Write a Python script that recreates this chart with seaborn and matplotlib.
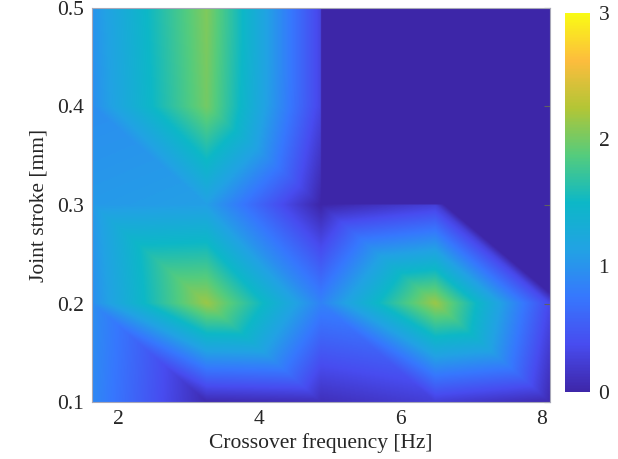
import numpy as np
import seaborn as sns
import matplotlib
matplotlib.use("Agg")
import matplotlib.pyplot as plt
import matplotlib.tri as mtri
from matplotlib.colors import LinearSegmentedColormap

# measurement grid
freq = [1.625, 3.25, 4.875, 6.5, 8.125]      # Crossover frequency [Hz]
stroke = [0.1, 0.2, 0.3, 0.4, 0.5]           # Joint stroke [mm]

# values per stroke row (columns follow freq), nan = no data
z_stroke_01 = [0.90, 0.05, 0.10, 0.25, 0.05]
z_stroke_02 = [0.95, 2.15, 0.85, 2.15, 0.35]
z_stroke_03 = [1.05, 1.10, 0.00, 0.25, -3.0]
z_stroke_04 = [0.95, 2.00, 0.30, np.nan, np.nan]
z_stroke_05 = [1.00, 2.05, 0.30, np.nan, np.nan]

cbar_ticks = [0, 1, 2, 3]
x_ticks = [2, 4, 6, 8]
y_ticks = [0.1, 0.2, 0.3, 0.4, 0.5]

parula = LinearSegmentedColormap.from_list("parula", [
    (0.2422, 0.1504, 0.6603), (0.2813, 0.2985, 0.9397), (0.2128, 0.4682, 0.9948),
    (0.1321, 0.6363, 0.8932), (0.0500, 0.7200, 0.7800), (0.3300, 0.8000, 0.4900),
    (0.7000, 0.7750, 0.2100), (0.9900, 0.7400, 0.2400), (0.9769, 0.9839, 0.0805)], N=256)

sns.set_style("white")
plt.rcParams['font.family'] = ['Liberation Serif', 'DejaVu Serif']

Z = np.array([z_stroke_01, z_stroke_02, z_stroke_03, z_stroke_04, z_stroke_05])
nx, ny = len(freq), len(stroke)
X, Y = np.meshgrid(freq, stroke)

# split every quad along its top-left -> bottom-right diagonal (like MATLAB interp shading)
tris, mask = [], []
for j in range(ny - 1):
    for i in range(nx - 1):
        bl, br = j * nx + i, j * nx + i + 1
        tl, tr = (j + 1) * nx + i, (j + 1) * nx + i + 1
        bad = np.isnan(Z.ravel()[[bl, br, tl, tr]]).any()
        tris += [[tl, tr, br], [tl, bl, br]]
        mask += [bad, bad]
tri = mtri.Triangulation(X.ravel(), Y.ravel(), np.array(tris))
tri.set_mask(np.array(mask))
interp = mtri.LinearTriInterpolator(tri, np.nan_to_num(Z).ravel())

xs = np.linspace(freq[0], freq[-1], 700)
ys = np.linspace(stroke[0], stroke[-1], 500)
XX, YY = np.meshgrid(xs, ys)
ZZ = interp(XX, YY)

fig = plt.figure(figsize=(6.18, 4.59), dpi=100)
ax = fig.add_axes([0.149, 0.124, 0.741, 0.859])
cmap = parula.copy()
cmap.set_bad(parula(0.0))
im = ax.imshow(ZZ, extent=[freq[0], freq[-1], stroke[0], stroke[-1]], origin='lower',
               aspect='auto', cmap=cmap, vmin=0, vmax=3, interpolation='bilinear')

ax.set_xticks(x_ticks)
ax.set_yticks(y_ticks)
ax.set_xlabel('Crossover frequency [Hz]', fontsize=15.5, color='#262626', labelpad=3)
ax.set_ylabel('Joint stroke [mm]', fontsize=15.5, color='#262626', labelpad=6)
ax.tick_params(axis='both', labelsize=15.5, colors='#262626', length=0, pad=6)
ax.tick_params(axis='y', right=True, direction='in', length=4, color='#606060')
for s in ax.spines.values():
    s.set_color('#a8a8b8')
    s.set_linewidth(0.8)

cax = fig.add_axes([0.914, 0.146, 0.041, 0.826])
cb = fig.colorbar(im, cax=cax, ticks=cbar_ticks)
cb.outline.set_visible(False)
cb.ax.tick_params(labelsize=15.5, length=0, colors='#262626', pad=6)

fig.savefig('out.png', dpi=100)
